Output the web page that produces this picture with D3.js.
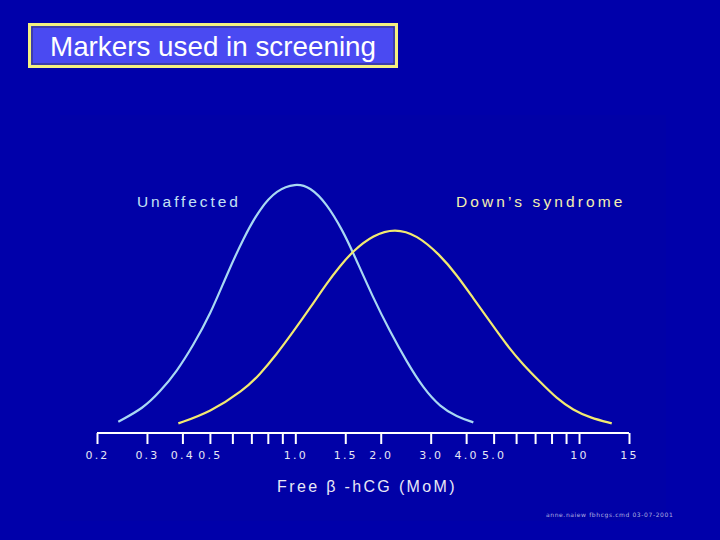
<!DOCTYPE html>
<html><head><meta charset="utf-8">
<script src="https://cdn.jsdelivr.net/npm/d3@7"></script>
<style>html,body{margin:0;padding:0;background:#0000aa;}svg{display:block;}</style>
</head><body>
<svg id="c" width="720" height="540"></svg>
<script>
// ---- data ----
const tickValues = [0.2,0.3,0.4,0.5,0.6,0.7,0.8,0.9,1.0,1.5,2.0,3.0,4.0,5.0,6,7,8,9,10,15];
const tickLabels = {"0.2":"0.2","0.3":"0.3","0.4":"0.4","0.5":"0.5","1":"1.0","1.5":"1.5","2":"2.0","3":"3.0","4":"4.0","5":"5.0","10":"10","15":"15"};
const unaffectedMoM = [0.2377,0.2912,0.3336,0.3819,0.4369,0.5004,0.5731,0.6557,0.7509,0.8599,1.0,1.126,1.290,1.476,1.593,1.884,2.157,2.470,2.826,3.236,3.706,4.241];
const unaffectedFreq = [4.35,9.5,15.9,23.6,33.8,45.4,60.8,74.9,86.4,93.5,96.0,94.7,88.3,77.4,69.7,51.8,39.0,27.4,17.2,10.1,6.3,4.1];
const downsMoM = [0.387,0.5004,0.6557,0.7509,0.8599,0.9838,1.126,1.290,1.437,1.593,1.884,2.245,2.679,3.236,3.706,4.241,4.856,5.561,6.362,7.287,8.343,9.546,10.93,13.04];
const downsFreq = [3.7,8.0,16.3,22.6,30.3,39.0,48.0,57.6,64.2,69.9,76.2,78.7,76.2,68.5,60.8,51.8,42.8,33.8,26.2,19.7,13.3,8.8,5.9,3.7];
const seriesNames = ["Unaffected","Down\u2019s syndrome"];
const title = "Markers used in screening";
const axisTitle = "Free \u03b2 -hCG (MoM)";

const svg = d3.select("#c");
svg.append("rect").attr("width",720).attr("height",540).attr("fill","#0000aa");
svg.append("rect").attr("x",60).attr("y",115).attr("width",606).attr("height",406).attr("fill","#0101a7");

// title box
svg.append("rect").attr("x",29.5).attr("y",24.5).attr("width",367).attr("height",42)
  .attr("fill","#4a4af2").attr("stroke","#f4f080").attr("stroke-width",3);
svg.append("rect").attr("x",32).attr("y",27).attr("width",362).attr("height",37)
  .attr("fill","none").attr("stroke","#30306a").attr("stroke-width",1);
svg.append("text").attr("x",213).attr("y",56).attr("text-anchor","middle")
  .attr("font-family","Liberation Sans, Arial, sans-serif").attr("font-size",27.8)
  .attr("fill","#ffffff").text(title);

const x = d3.scaleLog().domain([0.2,15]).range([97,629]);
const y = d3.scaleLinear().domain([0,100]).range([433,173]);

// axis
const axisG = svg.append("g").attr("transform","translate(0,433)");
const axis = d3.axisBottom(x).tickValues(tickValues).tickSize(11).tickPadding(7)
  .tickFormat(d => tickLabels[String(+d.toFixed(2))] || "");
axisG.call(axis);
axisG.select(".domain").attr("stroke","#ffffff").attr("stroke-width",2.2).attr("d","M97,0H629");
axisG.selectAll(".tick line").attr("stroke","#ffffff").attr("stroke-width",2);
axisG.selectAll(".tick text").attr("fill","#e6e6f4").attr("font-size",11)
  .attr("font-family","DejaVu Sans, sans-serif").attr("letter-spacing","2.2px");

svg.append("text").attr("x",367).attr("y",492).attr("text-anchor","middle")
  .attr("font-family","Liberation Sans, Arial, sans-serif").attr("font-size",16)
  .attr("letter-spacing","2.35px").attr("fill","#e8e8f6").text(axisTitle);

const line = d3.line().x(d=>x(d[0])).y(d=>y(d[1])).curve(d3.curveBasis);
svg.append("path").datum(d3.zip(unaffectedMoM, unaffectedFreq)).attr("d",line)
  .attr("fill","none").attr("stroke","#a8d8f2").attr("stroke-width",2.2);
svg.append("path").datum(d3.zip(downsMoM, downsFreq)).attr("d",line)
  .attr("fill","none").attr("stroke","#f2ea70").attr("stroke-width",2.2);

svg.append("text").attr("x",137).attr("y",207)
  .attr("font-family","Liberation Sans, Arial, sans-serif").attr("font-size",15.5)
  .attr("letter-spacing","2.9px").attr("fill","#c4e2f4").text(seriesNames[0]);
svg.append("text").attr("x",456).attr("y",207)
  .attr("font-family","Liberation Sans, Arial, sans-serif").attr("font-size",15.5)
  .attr("letter-spacing","3.1px").attr("fill","#f4f0b0").text(seriesNames[1]);

svg.append("text").attr("x",546).attr("y",517)
  .attr("font-family","DejaVu Sans, sans-serif").attr("font-size",6)
  .attr("letter-spacing","0.6px").attr("fill","#b0b0e0").text("anne.naiew fbhcgs.cmd 03-07-2001");
</script>
</body></html>
